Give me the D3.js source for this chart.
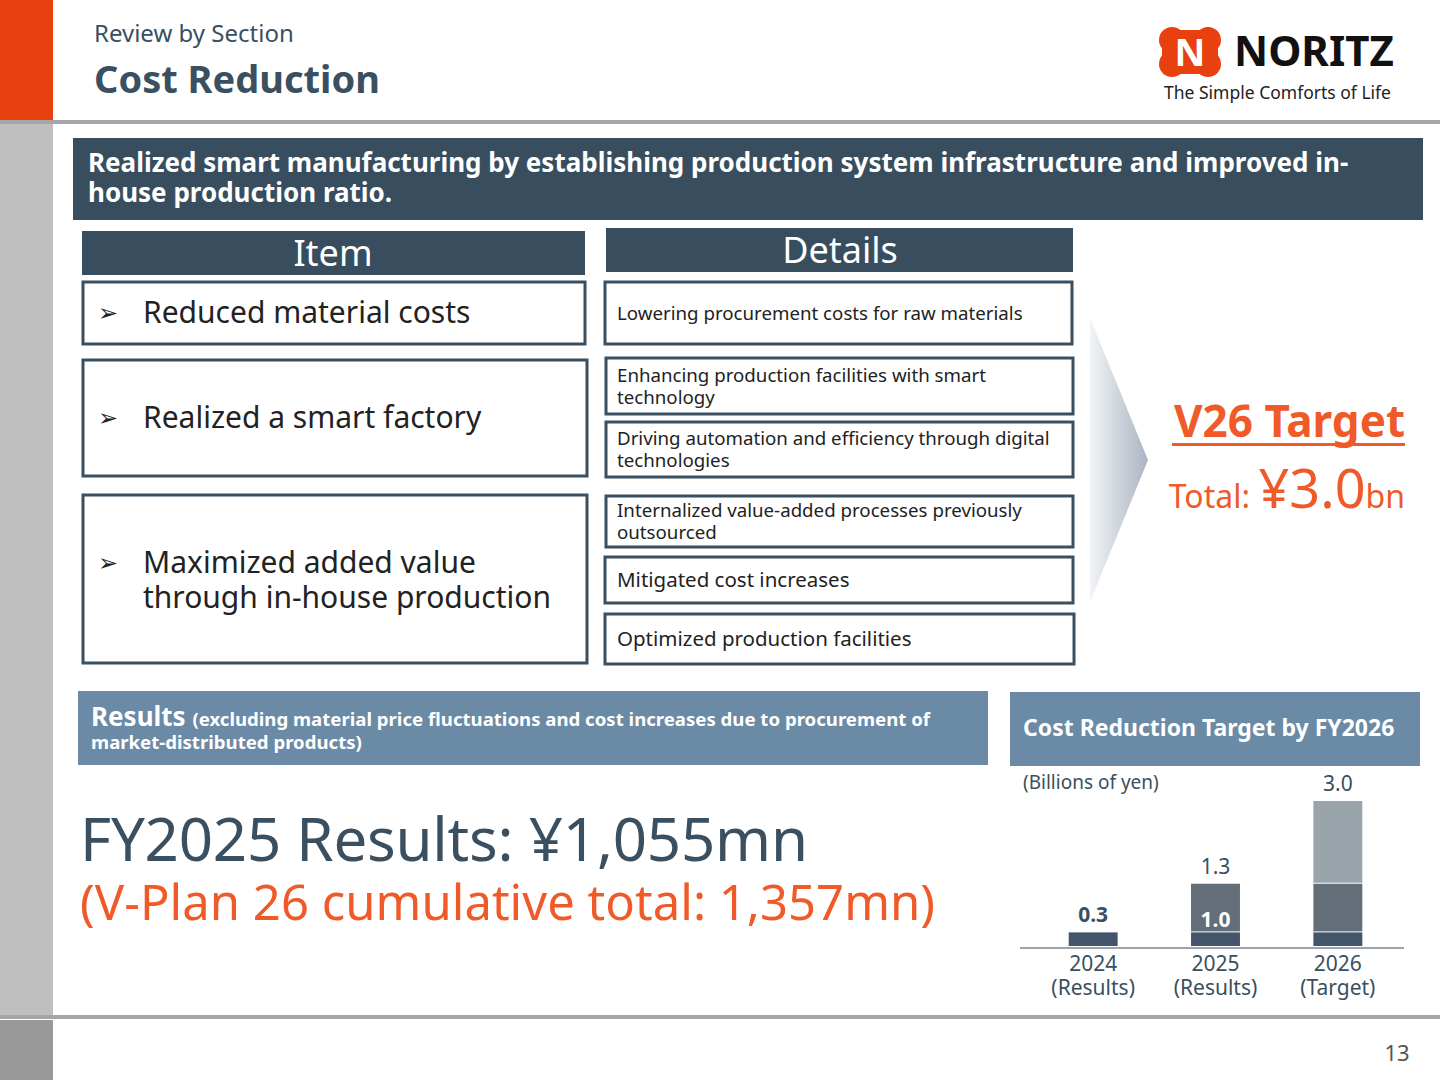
<!DOCTYPE html><html><head><meta charset="utf-8"><script src="https://cdn.jsdelivr.net/npm/d3@7"></script>
<style>body{margin:0}svg{font-family:"Noto Sans","Open Sans",sans-serif}</style></head><body><svg id="s" width="1440" height="1080"></svg>
<script>
const years=["2024\n(Results)","2025\n(Results)","2026\n(Target)"];
const seg2024=[0.3,0.3,0.3];
const seg2025=[0,1.0,1.0];
const seg2026=[0,0,1.7];
const totals=["0.3","1.3","3.0"];
const items=["Reduced material costs","Realized a smart factory","Maximized added value\nthrough in-house production"];
const details=["Lowering procurement costs for raw materials","Enhancing production facilities with smart\ntechnology","Driving automation and efficiency through digital\ntechnologies","Internalized value-added processes previously\noutsourced","Mitigated cost increases","Optimized production facilities"];
const svg=d3.select("#s");
const dark="#3a4f5f";
function txt(x,y,s,o={}){const t=svg.append("text").attr("x",x).attr("y",y).attr("font-size",o.fs||16).attr("fill",o.c||dark).attr("font-weight",o.w||400).attr("text-anchor",o.a||"start");
 s.split("\n").forEach((l,i)=>t.append("tspan").attr("x",x).attr("dy",i?(o.lh||(o.fs||16)*1.15):0).text(l));return t;}
function rect(x,y,w,h,f,st){return svg.append("rect").attr("x",x).attr("y",y).attr("width",w).attr("height",h).attr("fill",f||"none").attr("stroke",st||"none").attr("stroke-width",st?3:0);}
rect(0,0,1440,1080,"#fff");
rect(0,0,53,120,"#e8400f");
rect(0,124,53,892,"#bfbfbf");
rect(0,1020,53,60,"#999");
rect(0,120,1440,4,"#a6a6a6");
rect(0,1015,1440,4,"#a6a6a6");
txt(94,42,"Review by Section",{fs:24});
txt(94,93,"Cost Reduction",{fs:38,w:700});
const lg=svg.append("g");
[[1172,40],[1172,64],[1208,40],[1208,64]].forEach(([x,y])=>lg.append("circle").attr("cx",x).attr("cy",y).attr("r",13).attr("fill","#e8400f"));
lg.append("rect").attr("x",1162).attr("y",30).attr("width",56).attr("height",44).attr("rx",8).attr("fill","#e8400f");
txt(1190,66,"N",{fs:38,w:700,c:"#fff",a:"middle"});
txt(1234,66,"NORITZ",{fs:42,w:700,c:"#111"});
txt(1164,99,"The Simple Comforts of Life",{fs:17.5,c:"#222"});
txt(1397,1061,"13",{fs:22,c:"#555",a:"middle"});
rect(73,138,1350,82,"#384d5d");
txt(88,172,"Realized smart manufacturing by establishing production system infrastructure and improved in-\nhouse production ratio.",{fs:26,w:700,c:"#fff",lh:30});
rect(82,231,503,44,"#384d5d");
txt(333,266,"Item",{fs:36,c:"#fff",a:"middle"});
rect(606,228,467,44,"#384d5d");
txt(840,263,"Details",{fs:36,c:"#fff",a:"middle"});
const ib=[[83,282,502,62,323],[83,360,504,116,428],[83,495,504,168,573]];
items.forEach((s,i)=>{const b=ib[i];rect(b[0],b[1],b[2],b[3],"#fff",dark);
 txt(98,b[4]-2,"➢",{fs:24,c:"#222"});
 txt(143,b[4],s,{fs:30,c:"#222",lh:35});});
const db=[[605,282,467,62,320],[606,358,467,56,382],[606,422,467,55,445],[606,496,467,51,517],[605,557,468,46,587],[605,614,469,50,646]];
details.forEach((s,i)=>{const b=db[i];rect(b[0],b[1],b[2],b[3],"#fff",dark);
 txt(617,b[4],s,{fs:i==4||i==5?20.5:18.7,c:"#222",lh:22});});
const gr=svg.append("defs").append("linearGradient").attr("id","ag").attr("x1",0).attr("x2",1);
gr.append("stop").attr("offset",0).attr("stop-color","#f2f4f7");gr.append("stop").attr("offset",1).attr("stop-color","#aab4c2");
svg.append("path").attr("d","M1090,318 L1148,460 L1090,602 Z").attr("fill","url(#ag)");
txt(1405,437,"V26 Target",{fs:44,w:700,c:"#f05a28",a:"end"});
rect(1172,443,233,3,"#f05a28");
const tt=svg.append("text").attr("x",1405).attr("y",508).attr("text-anchor","end").attr("fill","#f05a28");
tt.append("tspan").attr("font-size",32).text("Total: ");tt.append("tspan").attr("font-size",54).text("¥3.0");tt.append("tspan").attr("font-size",32).text("bn");
rect(78,691,910,74,"#6a8aa6");
const rt=svg.append("text").attr("x",91).attr("y",726).attr("fill","#fff").attr("font-weight",700);
rt.append("tspan").attr("font-size",26).text("Results ");rt.append("tspan").attr("font-size",18.6).text("(excluding material price fluctuations and cost increases due to procurement of");
txt(91,749,"market-distributed products)",{fs:18.6,w:700,c:"#fff"});
txt(80,861,"FY2025 Results: ¥1,055mn",{fs:60,c:dark}).attr("textLength",728);
txt(80,920,"(V-Plan 26 cumulative total: 1,357mn)",{fs:49,c:"#f05a28"}).attr("textLength",855);
rect(1010,692,410,74,"#6a8aa6");
txt(1023,736,"Cost Reduction Target by FY2026",{fs:23,w:700,c:"#fff"});
txt(1023,789,"(Billions of yen)",{fs:19,c:dark});
const x=d3.scaleBand().domain(years).range([1032,1399]).paddingInner(0.6).paddingOuter(0.3);
const y=d3.scaleLinear().domain([0,3.0]).range([947,801]);
const series=[{v:seg2024,c:"#44546a"},{v:seg2025,c:"#636e78"},{v:seg2026,c:"#9aa4ab"}];
years.forEach((yr,i)=>{let base=0;series.forEach(s=>{const v=s.v[i];if(v>0){
 svg.append("rect").attr("x",x(yr)).attr("width",x.bandwidth()).attr("y",y(base+v)).attr("height",y(base)-y(base+v)-1).attr("fill",s.c);}base+=v;});
 txt(x(yr)+x.bandwidth()/2,y(base)-10,totals[i],{fs:21,a:"middle",c:dark,w:i==0?700:400});
 txt(x(yr)+x.bandwidth()/2,971,yr,{fs:21,a:"middle",lh:24});});
txt(x(years[1])+x.bandwidth()/2,927,"1.0",{fs:21,w:700,c:"#fff",a:"middle"});
svg.append("line").attr("x1",1020).attr("x2",1404).attr("y1",948).attr("y2",948).attr("stroke","#9aa4ab").attr("stroke-width",2);
</script></body></html>
